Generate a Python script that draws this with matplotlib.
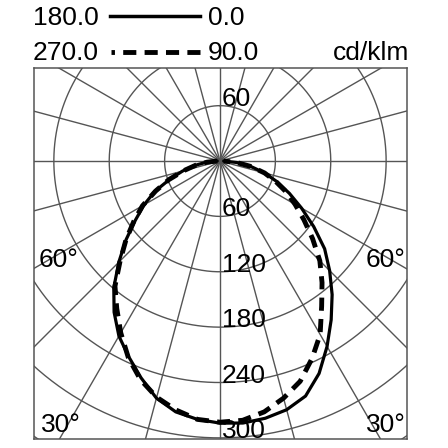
import numpy as np
import matplotlib
matplotlib.use('Agg')
import matplotlib.pyplot as plt
from matplotlib.lines import Line2D

plt.rcParams['font.family'] = ['Liberation Sans', 'DejaVu Sans']

# gamma angles (deg from nadir) and intensities in cd/klm per C-plane
gamma = [0, 5, 10, 15, 20, 25, 30, 35, 40, 45, 50, 55, 60, 65, 70, 75, 80, 85, 90]
c0 = [286, 285, 283, 279, 271, 254, 232, 210, 189, 168, 148, 124, 102, 83, 66, 50, 34, 18, 4]
c180 = [284, 281, 276, 266, 250, 234, 219, 200, 179, 155, 133, 112, 95, 78, 58, 42, 28, 15, 3]
c90 = [283, 282, 276, 266, 254, 236, 217, 192, 172, 153, 131, 111, 94, 79, 64, 50, 34, 18, 4]
c270 = [283, 281, 274, 265, 252, 235, 215, 195, 177, 153, 133, 114, 97, 77, 59, 41, 27, 14, 3]

rings = [60, 120, 180, 240, 300, 360]
ring_labels = ['60', '120', '180', '240', '300']
angle_labels = ['60°', '30°']

grid_col = '#555555'

fig = plt.figure(figsize=(4.48, 4.48), dpi=100)
ax = fig.add_axes([34 / 448, 1 - 439 / 448, 373 / 448, 371 / 448])
ax.set_xlim(-201.5, 202.6)
ax.set_ylim(-301.2, 100.8)
ax.set_xticks([])
ax.set_yticks([])
for sp in ax.spines.values():
    sp.set_color(grid_col)
    sp.set_linewidth(1.1)

# polar grid
t = np.linspace(0, 2 * np.pi, 400)
for r in rings:
    ax.plot(r * np.sin(t), r * np.cos(t), color=grid_col, lw=1.0, zorder=1)
for a in range(0, 360, 15):
    ar = np.radians(a)
    ax.plot([0, 500 * np.sin(ar)], [0, 500 * np.cos(ar)], color=grid_col, lw=1.0, zorder=1)


def plane_pair(left, right):
    g = np.radians(gamma)
    li = np.array(left)
    ri = np.array(right)
    x = np.concatenate([-(li * np.sin(g))[::-1], (ri * np.sin(g))[1:]])
    y = np.concatenate([-(li * np.cos(g))[::-1], -(ri * np.cos(g))[1:]])
    return x, y


xs, ys = plane_pair(c180, c0)
ax.plot(xs, ys, color='black', lw=2.3, zorder=3, solid_capstyle='round')
xd, yd = plane_pair(c270, c90)
ax.plot(xd, yd, color='black', lw=3.5, dashes=(2.7, 1.7), zorder=4)

fs = 19
ax.text(2, 60, '60', fontsize=fs, ha='left', va='baseline', zorder=5)
for lab in ring_labels:
    ax.text(2, -float(lab), lab, fontsize=fs, ha='left', va='baseline', zorder=5)

ax.text(-196, -114.8, angle_labels[0], fontsize=fs, ha='left', va='baseline')
ax.text(201, -114.8, angle_labels[0], fontsize=fs, ha='right', va='baseline')
ax.text(-194, -293.3, angle_labels[1], fontsize=fs, ha='left', va='baseline')
ax.text(201, -293.3, angle_labels[1], fontsize=fs, ha='right', va='baseline')

# legend
fig.text(33 / 448, 1 - 25 / 448, '180.0', fontsize=fs, ha='left', va='baseline')
fig.text(208 / 448, 1 - 25 / 448, '0.0', fontsize=fs, ha='left', va='baseline')
fig.text(33 / 448, 1 - 60 / 448, '270.0', fontsize=fs, ha='left', va='baseline')
fig.text(208 / 448, 1 - 60 / 448, '90.0', fontsize=fs, ha='left', va='baseline')
fig.text(409 / 448, 1 - 60 / 448, 'cd/klm', fontsize=fs, ha='right', va='baseline')
fig.add_artist(Line2D([110 / 448, 200 / 448], [1 - 15.7 / 448] * 2, color='black', lw=2.5))
# drawn right to left so the short dash lands at the left end
fig.add_artist(Line2D([200 / 448, 111 / 448], [1 - 51.7 / 448] * 2, color='black', lw=3.5,
                      dashes=(2.7, 1.7), dash_capstyle='butt'))

fig.savefig('out.png', dpi=100)
